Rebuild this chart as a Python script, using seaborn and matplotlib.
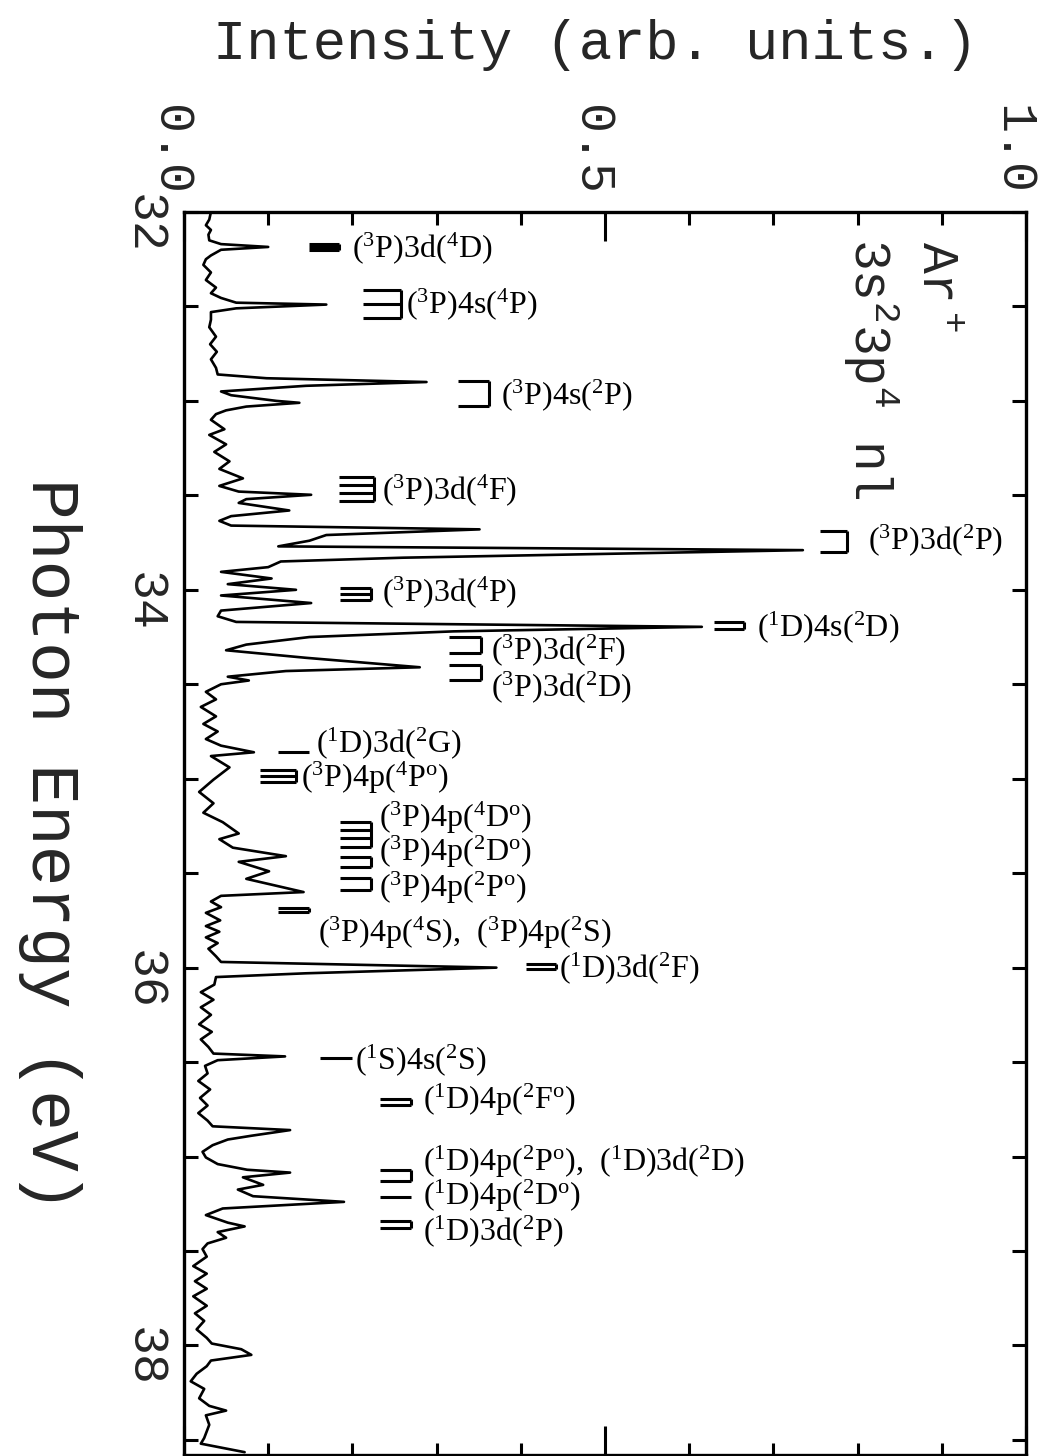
import matplotlib
matplotlib.use('Agg')
import matplotlib.pyplot as plt
from matplotlib.ticker import MultipleLocator
from matplotlib.transforms import ScaledTranslation
import pandas as pd
import seaborn as sns

# ---------------- spectrum data ----------------
energy = [32.00, 32.04, 32.07, 32.095, 32.12, 32.15, 32.17, 32.185, 32.20, 32.23,
          32.25, 32.28, 32.32, 32.36, 32.40, 32.43, 32.455, 32.48, 32.49, 32.51,
          32.53, 32.57, 32.61, 32.66, 32.70, 32.74, 32.78, 32.825, 32.86, 32.88,
          32.90, 32.92, 32.95, 32.97, 33.00, 33.01, 33.03, 33.05, 33.07, 33.10,
          33.15, 33.18, 33.23, 33.27, 33.32, 33.36, 33.41, 33.45, 33.48, 33.497,
          33.52, 33.54, 33.58, 33.61, 33.635, 33.66, 33.68, 33.71, 33.74, 33.77,
          33.79, 33.81, 33.83, 33.85, 33.88, 33.905, 33.94, 33.97, 34.00, 34.03,
          34.07, 34.11, 34.14, 34.17, 34.196, 34.22, 34.25, 34.29, 34.32, 34.36,
          34.41, 34.43, 34.46, 34.48, 34.50, 34.54, 34.58, 34.62, 34.67, 34.71,
          34.75, 34.79, 34.825, 34.86, 34.88, 34.94, 35.005, 35.07, 35.13, 35.18,
          35.23, 35.29, 35.32, 35.365, 35.41, 35.44, 35.49, 35.53, 35.60, 35.62,
          35.65, 35.68, 35.71, 35.75, 35.78, 35.81, 35.84, 35.87, 35.90, 35.94,
          35.97, 36.00, 36.03, 36.05, 36.09, 36.13, 36.17, 36.21, 36.25, 36.30,
          36.34, 36.38, 36.42, 36.455, 36.47, 36.49, 36.52, 36.56, 36.60, 36.645,
          36.69, 36.73, 36.77, 36.81, 36.84, 36.86, 36.89, 36.91, 36.94, 36.975,
          37.005, 37.04, 37.07, 37.085, 37.11, 37.15, 37.175, 37.21, 37.24, 37.275,
          37.31, 37.35, 37.37, 37.40, 37.43, 37.46, 37.49, 37.53, 37.58, 37.62,
          37.66, 37.70, 37.74, 37.79, 37.83, 37.87, 37.915, 37.96, 37.99, 38.02,
          38.05, 38.08, 38.11, 38.15, 38.19, 38.23, 38.28, 38.32, 38.345, 38.37,
          38.42, 38.49, 38.52, 38.565]
intensity = [0.032, 0.030, 0.026, 0.032, 0.029, 0.030, 0.044, 0.100, 0.044, 0.032,
             0.026, 0.023, 0.032, 0.026, 0.038, 0.032, 0.044, 0.062, 0.169, 0.062,
             0.032, 0.032, 0.030, 0.038, 0.031, 0.039, 0.032, 0.038, 0.040, 0.098,
             0.288, 0.145, 0.044, 0.056, 0.110, 0.137, 0.074, 0.050, 0.038, 0.032,
             0.048, 0.030, 0.050, 0.036, 0.054, 0.042, 0.070, 0.042, 0.065, 0.151,
             0.074, 0.065, 0.125, 0.056, 0.042, 0.056, 0.351, 0.169, 0.149, 0.112,
             0.735, 0.500, 0.260, 0.115, 0.100, 0.044, 0.104, 0.052, 0.133, 0.044,
             0.151, 0.044, 0.040, 0.062, 0.615, 0.320, 0.149, 0.074, 0.050, 0.145,
             0.280, 0.121, 0.052, 0.077, 0.044, 0.026, 0.038, 0.020, 0.038, 0.023,
             0.040, 0.026, 0.044, 0.083, 0.032, 0.054, 0.035, 0.018, 0.035, 0.023,
             0.046, 0.065, 0.042, 0.058, 0.121, 0.065, 0.101, 0.074, 0.142, 0.044,
             0.032, 0.044, 0.026, 0.043, 0.026, 0.042, 0.026, 0.040, 0.029, 0.038,
             0.044, 0.371, 0.145, 0.038, 0.036, 0.020, 0.035, 0.020, 0.032, 0.018,
             0.033, 0.020, 0.029, 0.035, 0.120, 0.040, 0.025, 0.028, 0.017, 0.031,
             0.019, 0.028, 0.017, 0.028, 0.034, 0.126, 0.080, 0.052, 0.034, 0.022,
             0.026, 0.040, 0.075, 0.126, 0.070, 0.094, 0.064, 0.082, 0.190, 0.046,
             0.026, 0.052, 0.072, 0.040, 0.050, 0.028, 0.022, 0.027, 0.011, 0.027,
             0.013, 0.027, 0.011, 0.027, 0.013, 0.024, 0.015, 0.027, 0.033, 0.068,
             0.080, 0.032, 0.027, 0.015, 0.008, 0.024, 0.018, 0.030, 0.050, 0.026,
             0.030, 0.024, 0.020, 0.072]

# ---------------- level assignments ----------------
level_energies = [
    [32.17, 32.185, 32.20],
    [32.413, 32.487, 32.561],
    [32.894, 33.026],
    [33.402, 33.444, 33.487, 33.529],
    [33.688, 33.799],
    [33.989, 34.021, 34.053],
    [34.169, 34.206],
    [34.249, 34.333],
    [34.397, 34.476],
    [34.857],
    [34.952, 34.984, 35.016],
    [35.228, 35.270, 35.312, 35.360],
    [35.413, 35.466],
    [35.524, 35.587],
    [35.683, 35.704],
    [35.979, 36.005],
    [36.476],
    [36.693, 36.725],
    [37.069, 37.127],
    [37.212],
    [37.339, 37.376],
]
level_labels = [
    r'($^3$P)3d($^4$D)',
    r'($^3$P)4s($^4$P)',
    r'($^3$P)4s($^2$P)',
    r'($^3$P)3d($^4$F)',
    r'($^3$P)3d($^2$P)',
    r'($^3$P)3d($^4$P)',
    r'($^1$D)4s($^2$D)',
    r'($^3$P)3d($^2$F)',
    r'($^3$P)3d($^2$D)',
    r'($^1$D)3d($^2$G)',
    r'($^3$P)4p($^4$P$^o$)',
    r'($^3$P)4p($^4$D$^o$)',
    r'($^3$P)4p($^2$D$^o$)',
    r'($^3$P)4p($^2$P$^o$)',
    r'($^3$P)4p($^4$S),  ($^3$P)4p($^2$S)',
    r'($^1$D)3d($^2$F)',
    r'($^1$S)4s($^2$S)',
    r'($^1$D)4p($^2$F$^o$)',
    r'($^1$D)4p($^2$P$^o$),  ($^1$D)3d($^2$D)',
    r'($^1$D)4p($^2$D$^o$)',
    r'($^1$D)3d($^2$P)',
]

xtick_vals = [0.0, 0.5, 1.0]
xtick_labels = ['0.0', '0.5', '1.0']
ytick_vals = [32, 34, 36, 38]
ytick_labels = ['32', '34', '36', '38']

# ---------------- layout (positions) ----------------
marker_span = [(0.148, 0.184), (0.212, 0.258), (0.325, 0.362), (0.184, 0.226),
               (0.755, 0.788), (0.185, 0.222), (0.630, 0.665), (0.315, 0.353),
               (0.315, 0.353), (0.112, 0.149), (0.090, 0.133), (0.185, 0.222),
               (0.185, 0.222), (0.185, 0.222), (0.112, 0.149), (0.406, 0.442),
               (0.162, 0.199), (0.233, 0.270), (0.233, 0.270), (0.233, 0.270),
               (0.233, 0.270)]
label_pos = [(0.199, 32.19), (0.264, 32.49), (0.377, 32.97), (0.235, 33.47),
             (0.812, 33.735), (0.235, 34.01), (0.681, 34.196), (0.365, 34.317),
             (0.365, 34.513), (0.157, 34.81), (0.139, 34.995), (0.231, 35.206),
             (0.231, 35.386), (0.231, 35.577), (0.159, 35.815), (0.445, 36.0),
             (0.203, 36.487), (0.284, 36.698), (0.284, 37.03), (0.284, 37.21),
             (0.284, 37.397)]

sns.set_theme(style='white')
plt.rcParams['font.family'] = ['Liberation Serif', 'DejaVu Serif']
plt.rcParams['mathtext.fontset'] = 'custom'
plt.rcParams['mathtext.rm'] = 'Liberation Serif'
plt.rcParams['mathtext.default'] = 'regular'
MONO = ['Liberation Mono', 'DejaVu Sans Mono']

fig = plt.figure(figsize=(10.46, 14.56), dpi=100)
fig.patch.set_facecolor('white')
ax = fig.add_axes([184 / 1046, 1 / 1456, 842 / 1046, 1243 / 1456])
ax.set_facecolor('white')

df = pd.DataFrame({'Intensity': intensity, 'Energy': energy})
sns.lineplot(data=df, x='Intensity', y='Energy', orient='y', sort=False,
             estimator=None, color='black', linewidth=1.9, ax=ax)

ax.set_xlim(0, 1.0)
ax.set_ylim(38.58, 32.0)

# level markers and labels
for levels, (x0, x1) in zip(level_energies, marker_span):
    ax.hlines(levels, x0, x1, colors='black', linewidth=2.2)
    if len(levels) > 1:
        ax.vlines(x1, min(levels), max(levels), colors='black', linewidth=2.2)
for text, (lx, ly) in zip(level_labels, label_pos):
    ax.text(lx, ly, text, fontsize=23, ha='left', va='center', color='black',
            family=['Liberation Serif', 'DejaVu Serif'])

# ion label
ax.text(0.892, 0.977, r'Ar$^+$', transform=ax.transAxes, rotation=270,
        ha='center', va='top', fontsize=37, family=MONO)
ax.text(0.815, 0.979, r'3s$^2$3p$^4$ nl', transform=ax.transAxes, rotation=270,
        ha='center', va='top', fontsize=37, family=MONO)

# ticks
ax.set_xticks(xtick_vals, labels=xtick_labels, fontsize=36, rotation=270,
              family=MONO)
ax.xaxis.set_minor_locator(MultipleLocator(0.1))
ax.tick_params(axis='x', which='both', direction='in', top=True, bottom=True,
               labeltop=True, labelbottom=False, width=2.2, color='black')
ax.tick_params(axis='x', which='major', length=21, pad=12)
ax.tick_params(axis='x', which='minor', length=9)
shift = ScaledTranslation(-14 / 100, 0, fig.dpi_scale_trans)
for lab in ax.xaxis.get_majorticklabels():
    lab.set_transform(lab.get_transform() + shift)

ax.set_yticks(ytick_vals, labels=ytick_labels, fontsize=36, rotation=270,
              family=MONO)
ax.yaxis.set_minor_locator(MultipleLocator(0.5))
ax.tick_params(axis='y', which='both', direction='in', left=True, right=True,
               length=10, width=2.2, pad=12, color='black')

for s in ax.spines.values():
    s.set_visible(True)
    s.set_linewidth(2.4)
    s.set_color('black')

# axis labels
ax.set_xlabel('Intensity (arb. units.)', fontsize=40, family=MONO)
ax.xaxis.set_label_position('top')
ax.xaxis.set_label_coords(0.488, 1.134)
ax.xaxis.label.set_va('center')

ax.set_ylabel('Photon Energy (eV)', fontsize=49, family=MONO, rotation=270)
ax.yaxis.set_label_coords(-0.159, 0.491)
ax.yaxis.label.set_va('center')
ax.yaxis.label.set_ha('center')

fig.savefig('out.png', dpi=100, facecolor='white')
